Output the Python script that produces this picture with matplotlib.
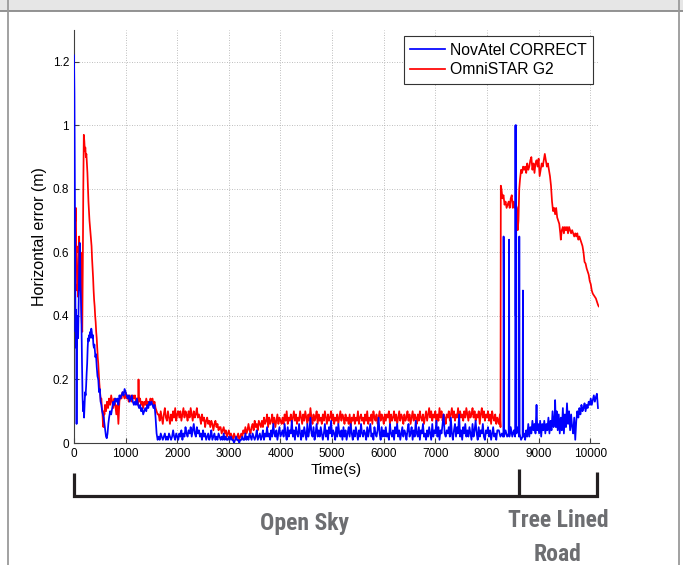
import numpy as np
import matplotlib
matplotlib.use("Agg")
import matplotlib.pyplot as plt
from matplotlib.lines import Line2D
from matplotlib.patches import Rectangle
import matplotlib.transforms as mtransforms

# ---------------------------------------------------------------- data
series_names = ["NovAtel CORRECT", "OmniSTAR G2"]

# convergence period (s, m)
novatel_t_early = [0, 8, 15, 20, 25, 30, 35, 40, 45, 50, 55, 60, 70, 80, 90, 100, 110, 118,
                   125, 135, 145, 155, 165, 175, 185, 195, 205, 215, 225, 235, 245, 255,
                   265, 275, 285, 295, 305, 315, 325, 335, 345, 355, 365, 375, 385, 395,
                   405, 415, 425, 440, 455, 470, 485, 500, 515, 530, 545, 560, 575, 590,
                   605, 620, 635, 650, 665, 680, 700, 720, 740, 760, 780, 800, 820, 840,
                   860, 880, 900, 920, 940, 960, 980, 1000, 1020, 1040, 1060, 1080, 1100,
                   1120, 1140, 1160, 1180, 1200, 1220, 1240, 1260, 1280, 1300, 1320, 1340,
                   1360, 1380, 1400, 1420, 1440, 1460, 1480, 1500, 1520, 1540, 1560, 1580,
                   1600, 1620]
novatel_err_early = [1.22, 1.10, 0.85, 0.62, 0.45, 0.35, 0.42, 0.30, 0.38, 0.06, 0.30, 0.35,
                     0.40, 0.33, 0.45, 0.55, 0.63, 0.60, 0.50, 0.45, 0.38, 0.25, 0.15, 0.10,
                     0.13, 0.08, 0.12, 0.16, 0.15, 0.18, 0.22, 0.25, 0.30, 0.33, 0.32, 0.34,
                     0.33, 0.35, 0.34, 0.36, 0.35, 0.33, 0.34, 0.31, 0.30, 0.31, 0.29, 0.27,
                     0.28, 0.24, 0.21, 0.20, 0.16, 0.17, 0.13, 0.12, 0.10, 0.09, 0.08, 0.06,
                     0.04, 0.02, 0.015, 0.03, 0.06, 0.08, 0.10, 0.09, 0.11, 0.13, 0.12, 0.14,
                     0.13, 0.14, 0.12, 0.15, 0.14, 0.15, 0.16, 0.15, 0.17, 0.16, 0.15, 0.14,
                     0.15, 0.13, 0.14, 0.15, 0.13, 0.12, 0.13, 0.12, 0.14, 0.12, 0.11, 0.12,
                     0.10, 0.11, 0.09, 0.10, 0.11, 0.10, 0.12, 0.11, 0.13, 0.12, 0.13, 0.12,
                     0.11, 0.12, 0.08, 0.03, 0.01]

omnistar_t_early = [0, 5, 10, 15, 20, 25, 30, 35, 40, 45, 50, 55, 60, 70, 80, 90, 100, 110,
                    120, 130, 140, 150, 160, 170, 180, 190, 200, 210, 220, 230, 240, 250,
                    260, 270, 280, 290, 300, 310, 320, 330, 340, 350, 360, 370, 380, 390,
                    400, 410, 420, 430, 440, 450, 460, 470, 480, 490, 500, 510, 520, 530,
                    540, 550, 560, 570, 580, 590, 600, 620, 640, 660, 680, 700, 720, 740,
                    760, 780, 800, 820, 840, 860, 880, 900, 920, 940, 960, 980, 1000, 1020,
                    1040, 1060, 1080, 1100, 1120, 1140, 1160, 1180, 1200, 1220, 1240, 1250,
                    1260, 1280, 1300, 1320, 1340, 1360, 1380, 1400, 1420, 1440, 1460, 1480,
                    1500, 1520, 1540, 1560, 1580, 1600, 1620]
omnistar_err_early = [0.55, 0.70, 0.62, 0.72, 0.65, 0.73, 0.70, 0.74, 0.66, 0.60, 0.62, 0.55,
                      0.48, 0.50, 0.46, 0.58, 0.65, 0.52, 0.48, 0.60, 0.45, 0.38, 0.35, 0.55,
                      0.80, 0.97, 0.95, 0.92, 0.93, 0.90, 0.91, 0.88, 0.85, 0.80, 0.76, 0.73,
                      0.70, 0.68, 0.66, 0.64, 0.62, 0.58, 0.55, 0.52, 0.48, 0.45, 0.43, 0.40,
                      0.38, 0.35, 0.33, 0.30, 0.27, 0.25, 0.22, 0.19, 0.17, 0.15, 0.13, 0.14,
                      0.11, 0.10, 0.06, 0.05, 0.10, 0.09, 0.12, 0.10, 0.13, 0.11, 0.14, 0.12,
                      0.15, 0.13, 0.11, 0.14, 0.12, 0.09, 0.12, 0.06, 0.13, 0.15, 0.14, 0.16,
                      0.15, 0.14, 0.16, 0.14, 0.15, 0.13, 0.15, 0.14, 0.13, 0.15, 0.14, 0.15,
                      0.13, 0.14, 0.12, 0.20, 0.13, 0.14, 0.12, 0.13, 0.11, 0.13, 0.12, 0.14,
                      0.12, 0.13, 0.12, 0.14, 0.13, 0.14, 0.12, 0.13, 0.11, 0.10, 0.09]

# open-sky steady state in centimetres, one sample every 20 s from 1640 s to 8200 s
steady_t_start, steady_t_stop, steady_dt = 1640, 8200, 20
novatel_err_steady_cm = [
    2, 1, 3, 2, 1, 2, 3, 1, 2, 1, 3, 2, 1, 2, 4, 2, 1, 3, 2, 1,
    3, 2, 4, 1, 3, 2, 5, 3, 2, 4, 3, 5, 2, 4, 6, 3, 2, 5, 3, 4,
    2, 3, 1, 4, 2, 3, 1, 2, 3, 1, 2, 4, 1, 2, 3, 1, 2, 1, 3, 2,
    1, 2, 1, 3, 1, 2, 1, 1, 2, 1, 2, 1, 1, 0, 1, 2, 1, 1, 0, 1,
    1, 2, 1, 1, 3, 1, 2, 1, 3, 2, 1, 3, 2, 1, 2, 4, 1, 2, 3, 1,
    2, 4, 1, 3, 2, 5, 2, 3, 1, 4, 2, 6, 3, 2, 4, 1, 3, 5, 2, 3,
    4, 2, 6, 3, 1, 5, 2, 4, 3, 7, 2, 4, 1, 5, 3, 2, 6, 3, 1, 4,
    2, 5, 3, 1, 6, 2, 4, 8, 3, 2, 5, 1, 3, 6, 2, 4, 2, 5, 3, 1,
    3, 6, 2, 4, 1, 5, 3, 7, 2, 4, 3, 1, 5, 2, 6, 3, 2, 4, 1, 5,
    2, 4, 1, 3, 5, 2, 6, 3, 1, 4, 2, 5, 3, 1, 4, 2, 6, 3, 2, 4,
    3, 1, 5, 2, 4, 6, 2, 3, 1, 5, 3, 2, 4, 8, 3, 1, 5, 2, 4, 2,
    5, 2, 3, 1, 6, 3, 2, 4, 1, 5, 3, 6, 2, 4, 1, 3, 5, 2, 4, 3,
    1, 4, 6, 2, 3, 5, 1, 4, 2, 7, 3, 2, 5, 1, 4, 3, 6, 2, 3, 1,
    4, 2, 5, 3, 1, 6, 2, 4, 3, 7, 2, 5, 1, 4, 3, 6, 9, 3, 2, 4,
    3, 5, 2, 8, 3, 1, 4, 6, 2, 5, 3, 9, 2, 4, 1, 5, 3, 6, 2, 4,
    2, 5, 3, 1, 6, 2, 4, 7, 3, 1, 5, 2, 4, 3, 6, 2, 1, 4, 3, 5,
    2, 4, 1, 3, 5, 2, 3, 1, 4]
omnistar_err_steady_cm = [
    9, 7, 10, 8, 6, 9, 11, 8, 7, 10, 8, 6, 9, 7, 10, 8, 11, 7, 9, 10,
    8, 10, 7, 9, 11, 8, 10, 9, 7, 10, 8, 11, 9, 7, 10, 8, 9, 11, 8, 9,
    8, 6, 9, 7, 8, 5, 7, 8, 6, 7, 5, 7, 6, 4, 6, 7, 5, 6, 4, 5,
    5, 3, 4, 5, 3, 4, 2, 3, 4, 2, 3, 2, 1, 3, 2, 1, 2, 3, 1, 2,
    3, 2, 4, 3, 5, 3, 4, 6, 4, 3, 5, 6, 4, 7, 5, 6, 4, 7, 6, 5,
    7, 5, 8, 6, 7, 9, 5, 8, 6, 7, 9, 6, 8, 5, 7, 9, 6, 8, 7, 6,
    8, 6, 9, 7, 10, 6, 8, 7, 9, 6, 8, 10, 7, 9, 6, 8, 7, 10, 8, 6,
    9, 7, 10, 8, 6, 9, 7, 11, 8, 6, 9, 7, 8, 10, 6, 9, 7, 8, 6, 9,
    7, 10, 8, 6, 9, 7, 8, 10, 7, 9, 6, 8, 7, 9, 6, 8, 10, 7, 9, 8,
    6, 9, 7, 8, 6, 9, 5, 8, 7, 9, 6, 8, 7, 10, 6, 8, 9, 7, 8, 6,
    9, 7, 10, 6, 8, 7, 9, 6, 10, 8, 7, 9, 6, 8, 10, 7, 9, 8, 6, 9,
    7, 9, 8, 10, 6, 9, 7, 8, 10, 7, 9, 6, 8, 10, 7, 9, 8, 6, 9, 7,
    8, 10, 7, 9, 6, 8, 10, 7, 9, 8, 6, 9, 7, 10, 8, 7, 9, 6, 8, 10,
    7, 9, 11, 8, 10, 7, 9, 8, 10, 6, 9, 7, 11, 8, 10, 7, 9, 8, 6, 9,
    8, 10, 7, 9, 11, 8, 10, 7, 9, 8, 11, 7, 10, 8, 9, 7, 10, 8, 11, 9,
    7, 10, 8, 9, 11, 8, 10, 7, 9, 8, 10, 6, 9, 11, 8, 10, 7, 9, 8, 10,
    7, 9, 6, 10, 8, 7, 9, 6, 8]

# tree-lined road
novatel_t_late = [8230, 8260, 8290, 8310, 8318, 8322, 8326, 8330, 8360, 8390, 8420, 8428,
                  8434, 8460, 8490, 8520, 8545, 8552, 8558, 8564, 8570, 8600, 8620, 8626,
                  8632, 8660, 8690, 8696, 8702, 8720, 8740, 8760, 8780, 8800, 8820, 8840,
                  8860, 8880, 8900, 8920, 8940, 8960, 8975, 8990, 9010, 9030, 9050, 9070,
                  9090, 9110, 9130, 9150, 9170, 9190, 9210, 9230, 9250, 9270, 9290, 9310,
                  9320, 9335, 9350, 9370, 9390, 9410, 9430, 9450, 9470, 9490, 9510, 9530,
                  9550, 9570, 9590, 9610, 9630, 9650, 9670, 9690, 9710, 9730, 9750, 9770,
                  9790, 9810, 9830, 9850, 9870, 9890, 9910, 9930, 9950, 9970, 9990, 10010,
                  10030, 10050, 10070, 10090, 10110, 10130, 10150]
novatel_err_late = [0.04, 0.02, 0.03, 0.02, 0.03, 0.65, 0.48, 0.02, 0.04, 0.02, 0.03, 0.64,
                    0.02, 0.05, 0.02, 0.04, 0.02, 1.00, 0.40, 1.00, 0.03, 0.05, 0.02, 0.65,
                    0.03, 0.01, 0.02, 0.48, 0.02, 0.03, 0.01, 0.04, 0.02, 0.06, 0.02, 0.05,
                    0.03, 0.07, 0.04, 0.06, 0.03, 0.12, 0.04, 0.06, 0.03, 0.07, 0.02, 0.06,
                    0.04, 0.07, 0.03, 0.06, 0.04, 0.08, 0.03, 0.07, 0.04, 0.10, 0.05, 0.08,
                    0.135, 0.05, 0.10, 0.04, 0.09, 0.03, 0.08, 0.04, 0.11, 0.03, 0.09, 0.05,
                    0.125, 0.06, 0.10, 0.04, 0.09, 0.05, 0.03, 0.08, 0.01, 0.07, 0.10, 0.08,
                    0.11, 0.09, 0.12, 0.10, 0.11, 0.125, 0.10, 0.12, 0.11, 0.13, 0.12, 0.14,
                    0.12, 0.135, 0.15, 0.13, 0.145, 0.155, 0.11]

omnistar_t_late = [8230, 8250, 8262, 8268, 8280, 8300, 8320, 8340, 8360, 8380, 8400, 8420,
                   8440, 8460, 8480, 8500, 8520, 8540, 8560, 8580, 8595, 8610, 8625, 8640,
                   8660, 8680, 8700, 8720, 8740, 8760, 8780, 8800, 8820, 8840, 8860, 8880,
                   8900, 8920, 8940, 8960, 8980, 9000, 9020, 9040, 9060, 9080, 9100, 9120,
                   9140, 9160, 9180, 9200, 9220, 9240, 9260, 9280, 9300, 9320, 9340, 9360,
                   9380, 9400, 9420, 9430, 9450, 9470, 9490, 9510, 9530, 9550, 9570, 9590,
                   9610, 9630, 9650, 9670, 9690, 9710, 9730, 9750, 9770, 9790, 9810, 9830,
                   9850, 9870, 9890, 9910, 9930, 9950, 9970, 9990, 10010, 10030, 10050,
                   10070, 10090, 10110, 10130, 10150, 10165]
omnistar_err_late = [0.06, 0.09, 0.05, 0.81, 0.80, 0.77, 0.78, 0.75, 0.76, 0.74, 0.75, 0.76,
                     0.74, 0.77, 0.78, 0.74, 0.76, 0.74, 0.75, 0.74, 0.67, 0.70, 0.80, 0.83,
                     0.86, 0.85, 0.87, 0.86, 0.87, 0.85, 0.88, 0.86, 0.87, 0.89, 0.90, 0.86,
                     0.88, 0.85, 0.88, 0.89, 0.87, 0.895, 0.84, 0.86, 0.88, 0.87, 0.89, 0.91,
                     0.89, 0.87, 0.88, 0.86, 0.84, 0.81, 0.76, 0.73, 0.74, 0.72, 0.74, 0.71,
                     0.70, 0.69, 0.66, 0.64, 0.67, 0.68, 0.66, 0.68, 0.67, 0.68, 0.66, 0.68,
                     0.67, 0.66, 0.67, 0.66, 0.65, 0.66, 0.65, 0.66, 0.64, 0.65, 0.64, 0.63,
                     0.62, 0.60, 0.57, 0.565, 0.55, 0.54, 0.53, 0.51, 0.50, 0.48, 0.47,
                     0.465, 0.46, 0.455, 0.445, 0.435, 0.43]

x_ticks = [0, 1000, 2000, 3000, 4000, 5000, 6000, 7000, 8000, 9000, 10000]
y_ticks = [0, 0.2, 0.4, 0.6, 0.8, 1.0, 1.2]
y_tick_labels = ["0", "0.2", "0.4", "0.6", "0.8", "1", "1.2"]

# environment segments along the time axis
segment_edges = [0, 8620, 10140]
segment_labels = ["Open Sky", "Tree Lined", "Road"]

# ---------------------------------------------------------------- assemble series
steady_t = np.arange(steady_t_start, steady_t_stop + 1, steady_dt)
t_nov = np.concatenate([novatel_t_early, steady_t, novatel_t_late])
e_nov = np.concatenate([novatel_err_early, np.array(novatel_err_steady_cm) / 100.0,
                        novatel_err_late])
t_omni = np.concatenate([omnistar_t_early, steady_t, omnistar_t_late])
e_omni = np.concatenate([omnistar_err_early, np.array(omnistar_err_steady_cm) / 100.0,
                         omnistar_err_late])

# ---------------------------------------------------------------- figure
W, H = 683, 565
fig = plt.figure(figsize=(W / 100, H / 100), dpi=100)
fig.patch.set_facecolor("white")


def fx(px):
    return px / W


def fy(py):
    return 1 - py / H


# panel frame
fig.add_artist(Rectangle((0, fy(10.5)), 1, 1 - fy(10.5), transform=fig.transFigure,
                         facecolor="#e6e6e6", edgecolor="none", zorder=0))
fig.add_artist(Line2D([0, 1], [fy(10.5)] * 2, transform=fig.transFigure,
                      color="#8a8a8a", lw=1.3))
fig.add_artist(Line2D([fx(7.5)] * 2, [0, 1], transform=fig.transFigure,
                      color="#9a9a9a", lw=1.3))
fig.add_artist(Line2D([fx(678.5)] * 2, [0, 1], transform=fig.transFigure,
                      color="#9a9a9a", lw=1.3))

plt.rcParams["font.family"] = ["Liberation Sans", "DejaVu Sans"]

ax = fig.add_axes([fx(74), fy(443), fx(599) - fx(74), fy(30) - fy(443)])
ax.set_xlim(0, 10170)
ax.set_ylim(0, 1.3)

line_o, = ax.plot(t_omni, e_omni, color="#ff0000", lw=1.25, zorder=2)
line_n, = ax.plot(t_nov, e_nov, color="#0000ff", lw=1.25, zorder=3)

ax.set_xticks(x_ticks)
ax.set_xticklabels([str(v) for v in x_ticks])
ax.set_yticks(y_ticks)
ax.set_yticklabels(y_tick_labels)
ax.tick_params(direction="in", length=3.5, width=0.8, color="#404040",
               labelsize=8.5, pad=3.5)
for side in ("top", "right"):
    ax.spines[side].set_visible(False)
for side in ("left", "bottom"):
    ax.spines[side].set_color("#404040")
    ax.spines[side].set_linewidth(0.8)
ax.grid(True, linestyle=(0, (1, 2)), color="#a8a8a8", linewidth=0.6)
ax.set_axisbelow(True)

ax.set_xlabel("Time(s)", fontsize=11, labelpad=2)
ax.set_ylabel("Horizontal error (m)", fontsize=11.5, labelpad=4)

leg = ax.legend([line_n, line_o], series_names, loc="upper right",
                bbox_to_anchor=(0.9895, 0.9855), borderaxespad=0, fontsize=11.3,
                fancybox=False, framealpha=1, edgecolor="#333333",
                handlelength=2.25, handletextpad=0.3, borderpad=0.42,
                labelspacing=0.3)
leg.get_frame().set_linewidth(0.8)

# segment bracket under the time axis
br = mtransforms.blended_transform_factory(ax.transData, fig.transFigure)
bracket_kw = dict(transform=br, color="#231f20", lw=2.3, clip_on=False,
                  solid_joinstyle="miter", solid_capstyle="butt")
ax.add_line(Line2D([segment_edges[0], segment_edges[0], segment_edges[2], segment_edges[2]],
                   [fy(473), fy(496), fy(496), fy(472)], **bracket_kw))
ax.add_line(Line2D([segment_edges[1]] * 2, [fy(469), fy(496)], **bracket_kw))

label_font = ["Liberation Sans Narrow", "DejaVu Sans Condensed", "Roboto Condensed",
              "Open Sans Condensed", "Liberation Sans", "DejaVu Sans"]
label_kw = dict(fontsize=17, fontweight="bold", fontstretch="condensed", color="#6d6e71",
                ha="center", va="baseline", family=label_font, transform=fig.transFigure)
fig.text(fx(304), fy(530), segment_labels[0], **label_kw)
fig.text(fx(558), fy(527), segment_labels[1], **label_kw)
fig.text(fx(558), fy(561), segment_labels[2], **label_kw)

fig.savefig("out.png", dpi=100)
